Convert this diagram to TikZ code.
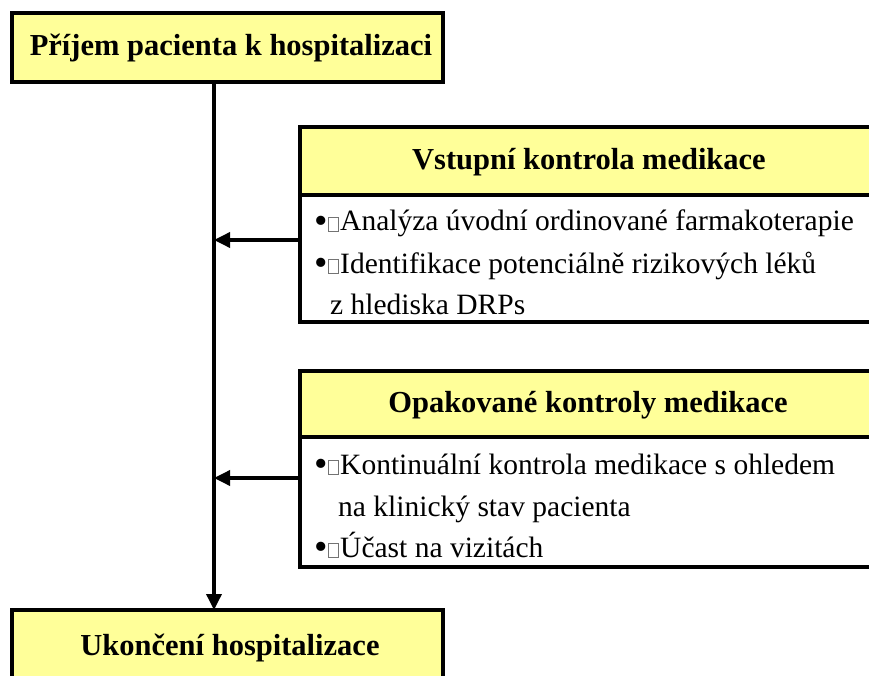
\documentclass[tikz,border=0pt]{standalone}
\usepackage{fontspec}
\setmainfont{Liberation Serif}
\usetikzlibrary{arrows.meta}
\definecolor{boxyellow}{HTML}{FFFF99}
\newcommand\itemmark{\raisebox{-2.5pt}{\scalebox{1.3}{\textbullet}}\kern0.5pt{\color{black!55}\fboxsep=0pt\fboxrule=0.8pt\fbox{\rule{0pt}{13pt}\rule{9pt}{0pt}}}\kern1.5pt}
\tikzset{
  frame/.style={draw=black, line width=3.5pt},
  headfill/.style={fill=boxyellow},
  headtext/.style={font=\fontsize{30.5}{33}\selectfont\bfseries, inner sep=0pt},
  bodytext/.style={font=\fontsize{29.5}{32}\selectfont, inner sep=0pt, anchor=base west},
  link/.style={line width=3.5pt, -{Triangle[length=16pt,width=15pt]}},
}
\begin{document}
\begin{tikzpicture}[x=1pt,y=-1pt]
\clip (0,0) rectangle (869,676);
\fill[white] (0,0) rectangle (869,676);

% start of hospital stay
\filldraw[frame, headfill] (12,13) rectangle (443,82);
\node[headtext] (start) at (231,48) {Příjem pacienta k hospitalizaci};

% end of hospital stay
\filldraw[frame, headfill] (12,610) rectangle (443,700);
\node[headtext] (finish) at (230,648) {Ukončení hospitalizace};

% admission medication review
\filldraw[frame, headfill] (300,127) rectangle (880,195);
\draw[frame, fill=white] (300,195) rectangle (880,322);
\node[headtext] (h1) at (589,162) {Vstupní kontrola medikace};
\node[bodytext] (b1a) at (314,231) {\itemmark Analýza úvodní ordinované farmakoterapie};
\node[bodytext] (b1b) at (314,273) {\itemmark Identifikace potenciálně rizikových léků};
\node[bodytext] (b1c) at (330,314) {z hlediska DRPs};

% repeated medication reviews
\filldraw[frame, headfill] (300,371) rectangle (880,437);
\draw[frame, fill=white] (300,437) rectangle (880,567);
\node[headtext] (h2) at (588,405) {Opakované kontroly medikace};
\node[bodytext] (b2a) at (314,474) {\itemmark Kontinuální kontrola medikace s ohledem};
\node[bodytext] (b2b) at (338,516) {na klinický stav pacienta};
\node[bodytext] (b2c) at (314,557) {\itemmark Účast na vizitách};

% connectors
\coordinate (spineTop) at (214,82);
\coordinate (spineEnd) at (214,610);
\coordinate (src1) at (300,240);
\coordinate (dst1) at (214,240);
\coordinate (src2) at (300,478);
\coordinate (dst2) at (214,478);
\draw[link] (spineTop) -- (spineEnd);
\draw[link] (src1) -- (dst1);
\draw[link] (src2) -- (dst2);
\end{tikzpicture}
\end{document}
